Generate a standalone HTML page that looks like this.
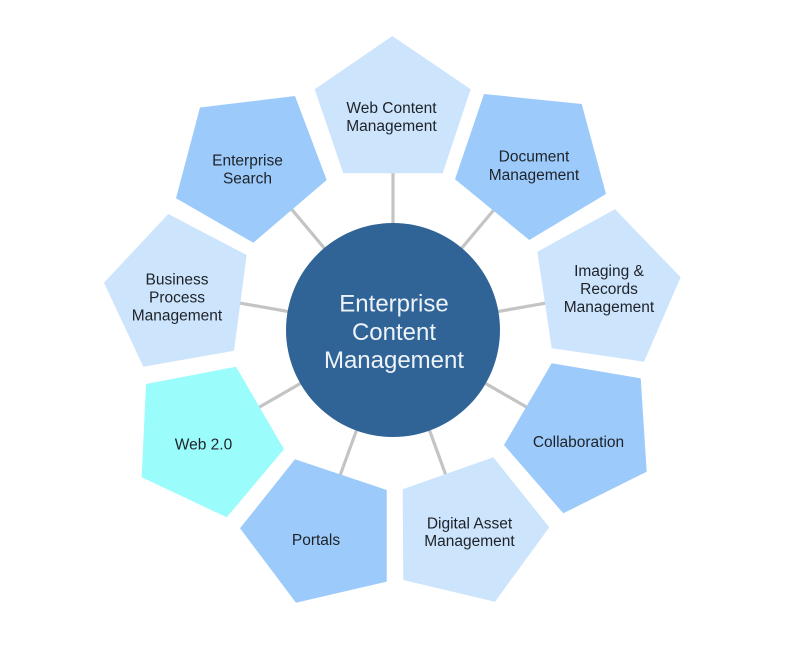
<!DOCTYPE html>
<html><head><meta charset="utf-8"><style>
html,body{margin:0;padding:0;background:#fff;}
svg{display:block;}
text{font-family:"Liberation Sans",Arial,sans-serif;}
.l{font-size:15.5px;fill:#1e2228;text-anchor:middle;}
.c{font-size:24px;fill:#eef3f8;text-anchor:middle;}
</style></head><body>
<svg width="800" height="646" viewBox="0 0 800 646" xmlns="http://www.w3.org/2000/svg">
<rect width="800" height="646" fill="#fff"/>
<g stroke="#c4c4c4" stroke-width="3.2">
<line x1="393" y1="330" x2="393" y2="130"/>
<line x1="393" y1="330" x2="521.6" y2="176.8"/>
<line x1="393" y1="330" x2="590" y2="295.3"/>
<line x1="393" y1="330" x2="566.2" y2="430"/>
<line x1="393" y1="330" x2="461.4" y2="517.9"/>
<line x1="393" y1="330" x2="324.6" y2="517.9"/>
<line x1="393" y1="330" x2="219.8" y2="430"/>
<line x1="393" y1="330" x2="196" y2="295.3"/>
<line x1="393" y1="330" x2="264.4" y2="176.8"/>
</g>
<!-- Web Content -->
<polygon points="392.3,36 470.7,89.3 442.7,173.3 343.3,173.3 314.7,89.3" fill="#cce4fc"/>
<!-- Document -->
<polygon points="484,94 581.7,104 606,194 529.3,240 455,179.3" fill="#9ccbfb"/>
<!-- Imaging -->
<polygon points="615,209.3 680.7,277.3 644,361.7 551.7,348.3 537.3,251.7" fill="#cce4fc"/>
<!-- Collaboration -->
<polygon points="551.7,363.3 640.7,378.3 646.7,471.7 563.3,513.3 504,445" fill="#9ccbfb"/>
<!-- Digital Asset -->
<polygon points="493.3,457.3 549.3,527.3 495,601.7 403.3,580 402.7,489.3" fill="#cce4fc"/>
<!-- Portals -->
<polygon points="295,459.3 386.7,490 386.7,581.7 296,602.7 240,528.3" fill="#9ccbfb"/>
<!-- Web 2.0 -->
<polygon points="236,366.7 284,449.3 226.7,517.3 141.7,477.3 146,384" fill="#9bfcfc"/>
<!-- Business Process -->
<polygon points="168.3,214 246.7,255 234,350.7 143.3,366.7 104,282.7" fill="#cce4fc"/>
<!-- Enterprise Search -->
<polygon points="200,107.5 295,96 326.7,180 253.3,242.7 176,198.3" fill="#9ccbfb"/>
<!-- center -->
<circle cx="393" cy="330" r="107" fill="#306497"/>
<text class="c" x="394" y="311.5">Enterprise</text>
<text class="c" x="394" y="340">Content</text>
<text class="c" x="394" y="368">Management</text>

<text class="l" x="391.5" y="113">Web Content</text>
<text class="l" x="391.5" y="131">Management</text>

<text class="l" x="534" y="161.5">Document</text>
<text class="l" x="534" y="180">Management</text>

<text class="l" x="247.5" y="165.5">Enterprise</text>
<text class="l" x="247.5" y="183.5">Search</text>

<text class="l" x="177" y="284.5">Business</text>
<text class="l" x="177" y="302.5">Process</text>
<text class="l" x="177" y="320.5">Management</text>

<text class="l" x="609" y="276">Imaging &amp;</text>
<text class="l" x="609" y="294">Records</text>
<text class="l" x="609" y="312">Management</text>

<text class="l" x="578.5" y="447">Collaboration</text>

<text class="l" x="203.5" y="449.5">Web 2.0</text>

<text class="l" x="316" y="545">Portals</text>

<text class="l" x="469.5" y="528.5">Digital Asset</text>
<text class="l" x="469.5" y="546">Management</text>
</svg>
</body></html>
